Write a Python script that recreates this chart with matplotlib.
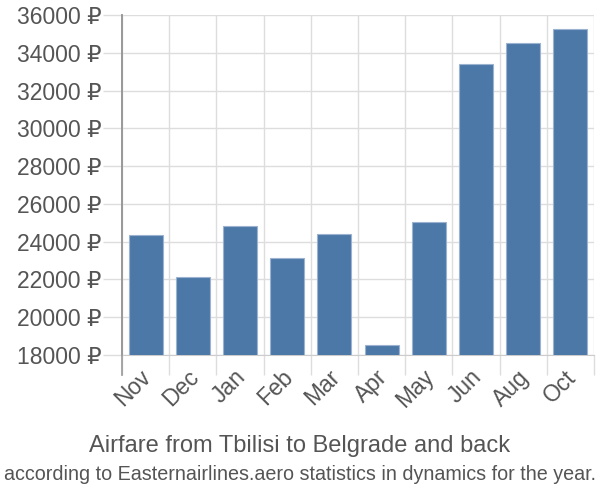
import matplotlib.pyplot as plt
import matplotlib.transforms as mtransforms
import numpy as np

months = ["Nov", "Dec", "Jan", "Feb", "Mar", "Apr", "May", "Jun", "Aug", "Oct"]
prices = [24350, 22140, 24830, 23140, 24420, 18550, 25050, 33420, 34530, 35250]
yticks = list(range(18000, 36001, 2000))

plt.rcParams['font.family'] = ['Liberation Sans', 'DejaVu Sans']

fig = plt.figure(figsize=(6, 5), dpi=100)
ax = fig.add_axes([0.2033, 0.29, 0.7867, 0.68])

x = np.arange(len(months))
ax.bar(x, prices, width=0.72, color='#4c78a8', edgecolor='#9cb3cf', linewidth=0.8, zorder=3)

ax.set_xlim(-0.5, len(months) - 0.5)
ax.set_ylim(18000, 36000)

# y axis
ax.set_yticks(yticks)
ax.set_yticklabels([f"{v} ₽" for v in yticks])
ax.tick_params(axis='y', length=13.7, color='#dddddd', width=1, labelsize=16.5,
               labelcolor='#555555', pad=1)
ax.grid(axis='y', color='#dddddd', linewidth=1, zorder=0)

# x axis: labels at centres, grid lines at category boundaries
ax.set_xticks(x)
ax.set_xticklabels(months, rotation=45, ha='right', va='top', rotation_mode='anchor')
ax.tick_params(axis='x', which='major', length=0, labelsize=16.5, labelcolor='#555555', pad=9)
ax.set_xticks(np.arange(-0.5, len(months), 1.0), minor=True)
ax.tick_params(axis='x', which='minor', length=14.4, color='#dddddd', width=1)
ax.grid(axis='x', which='minor', color='#dddddd', linewidth=1, zorder=0)

shift = mtransforms.ScaledTranslation(-6 / 100, 2 / 100, fig.dpi_scale_trans)
for lbl in ax.get_xticklabels():
    lbl.set_transform(lbl.get_transform() + shift)

for s in ['top', 'right']:
    ax.spines[s].set_visible(False)
ax.spines['bottom'].set_color('#cccccc')
ax.spines['left'].set_color('#999999')
ax.spines['left'].set_linewidth(1.2)
ax.plot([0, 0], [-0.059, 1], transform=ax.transAxes, color='#999999',
        linewidth=1.2, clip_on=False, zorder=4)

fig.text(0.5, 0.108, "Airfare from Tbilisi to Belgrade and back", ha='center', va='center',
         fontsize=17, color='#555555')
fig.text(0.5, 0.05, "according to Easternairlines.aero statistics in dynamics for the year.",
         ha='center', va='center', fontsize=14.2, color='#555555')

fig.savefig('out.png', dpi=100)
